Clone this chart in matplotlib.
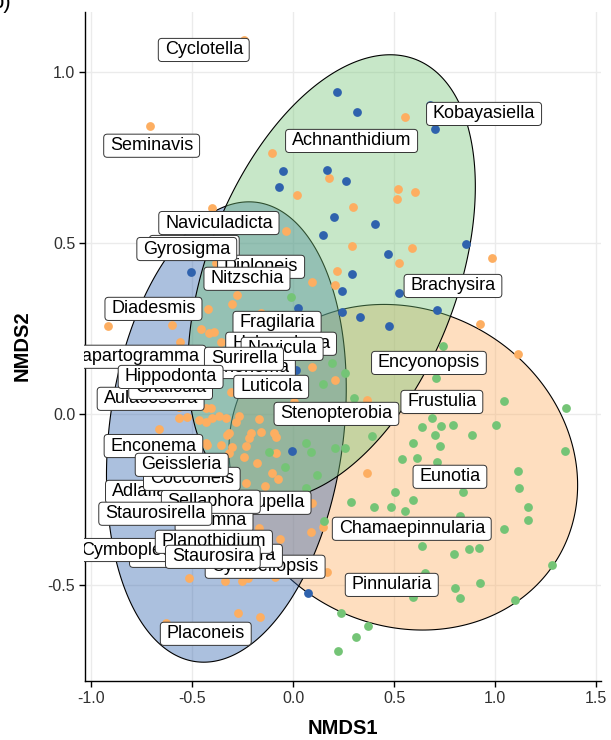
import numpy as np
import matplotlib
matplotlib.use('Agg')
import matplotlib.pyplot as plt
from matplotlib.patches import BoxStyle
from matplotlib.transforms import Bbox, TransformedBbox

plt.rcParams['font.family'] = ['Liberation Sans', 'DejaVu Sans']

# ---------------- data ----------------
blue_x = [0.219, 0.314, 0.678, 0.703, -0.050, 0.165, 0.262, -0.068, 0.204, 0.403,
          0.145, 0.856, 0.468, 0.289, 0.244, 0.522, 0.025, 0.244, 0.333, 0.711,
          0.473, -0.507, 0.015, -0.005, 0.075]
blue_y = [0.940, 0.882, 0.903, 0.832, 0.711, 0.714, 0.682, 0.662, 0.576, 0.555,
          0.523, 0.497, 0.468, 0.409, 0.360, 0.354, 0.310, 0.298, 0.284, 0.304,
          0.257, 0.415, 0.129, -0.108, -0.524]

orange_x = [-0.707, -0.246, 0.552, -0.107, 0.178, 0.019, 0.517, 0.603, 0.514, 0.295,
            -0.403, -0.035, 0.289, 0.587, 0.522, 0.985, -0.383, 0.219, 0.094, 0.209,
            -0.279, -0.303, -0.423, -0.159, 0.925, -0.602, -0.915, -0.458, -0.418, -0.393,
            -0.358, -0.560, 1.114, 0.095, 0.209, -0.308, -0.483, 0.363, 0.005, -0.567,
            -0.433, -0.408, -0.567, -0.527, -0.468, -0.433, -0.403, -0.368, -0.333, -0.284,
            -0.269, -0.169, -0.667, -0.318, -0.209, -0.159, -0.219, -0.095, -0.085, -0.328,
            -0.433, -0.428, -0.358, -0.303, -0.234, -0.318, -0.085, -0.244, -0.179, -0.104,
            -0.075, -0.234, -0.139, 0.363, 0.095, 0.145, 0.089, -0.169, -0.065, -0.104,
            0.169, -0.091, -0.223, -0.252, -0.339, -0.514, -0.271, -0.165, -0.630]
orange_y = [0.842, 1.094, 0.867, 0.764, 0.691, 0.639, 0.657, 0.650, 0.628, 0.605,
            0.602, 0.535, 0.491, 0.485, 0.441, 0.456, 0.441, 0.418, 0.386, 0.377,
            0.348, 0.322, 0.307, 0.295, 0.263, 0.260, 0.257, 0.249, 0.237, 0.240,
            0.211, 0.210, 0.175, 0.137, 0.099, 0.064, 0.041, 0.041, 0.035, 0.020,
            0.018, 0.018, -0.012, -0.009, -0.018, -0.023, -0.012, -0.006, -0.012, -0.023,
            -0.006, -0.015, -0.044, -0.056, -0.056, -0.053, -0.070, -0.056, -0.067, -0.061,
            -0.085, -0.091, -0.091, -0.096, -0.094, -0.114, -0.114, -0.126, -0.143, -0.173,
            -0.190, -0.202, -0.211, -0.173, -0.261, -0.330, -0.344, -0.333, -0.366, -0.392,
            -0.462, -0.478, -0.480, -0.488, -0.488, -0.480, -0.583, -0.593, -0.610]

green_x = [0.741, 0.194, 0.254, 0.145, 0.706, 0.303, 1.045, 1.353, 0.687, -0.010,
           0.637, 0.731, 0.791, 0.886, 1.005, 0.701, 0.592, 0.726, 0.388, 0.537,
           0.612, 0.711, 1.348, 1.114, 1.119, 0.502, 0.841, 0.288, 0.398, 0.483,
           0.552, 0.592, 1.164, 1.164, 0.826, 1.045, 0.637, 0.796, 0.871, 0.920,
           1.279, 0.652, 0.925, 0.801, 0.826, 1.100, 0.592, 0.239, 0.368, 0.313,
           0.224, 0.154, 0.065, 0.090, 0.209, 0.254, 0.119, -0.119, -0.040, 0.065]
green_y = [0.199, 0.149, 0.120, 0.088, 0.105, 0.047, 0.038, 0.018, -0.012, 0.342,
           -0.038, -0.035, -0.032, -0.061, -0.032, -0.061, -0.086, -0.093, -0.064, -0.132,
           -0.128, -0.140, -0.108, -0.166, -0.216, -0.227, -0.227, -0.257, -0.271, -0.271,
           -0.283, -0.251, -0.271, -0.310, -0.300, -0.336, -0.386, -0.409, -0.395, -0.392,
           -0.441, -0.465, -0.494, -0.509, -0.538, -0.544, -0.535, -0.582, -0.620, -0.652,
           -0.693, -0.313, -0.085, -0.111, -0.099, -0.099, -0.178, -0.111, -0.155, -0.216]

# ellipses (drawn in this order): centre, top-point offset (ux, uy), horizontal half-vector vx
ell_cx = [0.545, -0.331, 0.190]
ell_cy = [-0.156, -0.053, 0.400]
ell_ux = [-0.095, 0.112, 0.290]
ell_uy = [0.476, 0.673, 0.650]
ell_vx = [0.858, 0.583, 0.650]
ell_col = ['#FDAE61', '#2F62AD', '#74C476']

# genus labels (drawing order: later on top)
lab_text = ['Tabellaria', 'Diploneis', 'Gomphonema', 'Fragilaria', 'Halamphora',
            'Capartogramma', 'Aulacoseira', 'Craticula', 'Adlafia', 'Nupella',
            'Eolimna', 'Cymbellopsis', 'Pseudostaurosira', 'Cymbopleura',
            'Cyclotella', 'Kobayasiella', 'Achnanthidium', 'Seminavis', 'Naviculadicta',
            'Gyrosigma', 'Nitzschia', 'Diadesmis', 'Navicula', 'Surirella', 'Hippodonta',
            'Luticola', 'Stenopterobia', 'Brachysira', 'Encyonopsis', 'Frustulia',
            'Eunotia', 'Chamaepinnularia', 'Pinnularia', 'Sellaphora', 'Cocconeis',
            'Enconema', 'Geissleria', 'Staurosirella', 'Planothidium', 'Staurosira',
            'Placoneis']
lab_x = [-0.490, -0.159, -0.303, -0.080, -0.060,
         -0.786, -0.706, -0.607, -0.761, -0.095,
         -0.392, -0.139, -0.432, -0.785,
         -0.443, 0.945, 0.289, -0.701, -0.368,
         -0.527, -0.229, -0.692, -0.055, -0.244, -0.607,
         -0.109, 0.214, 0.791, 0.672, 0.736,
         0.776, 0.587, 0.488, -0.408, -0.502,
         -0.692, -0.552, -0.683, -0.393, -0.398,
         -0.433]
lab_y = [0.488, 0.430, 0.137, 0.266, 0.205,
         0.167, 0.044, 0.076, -0.228, -0.260,
         -0.312, -0.447, -0.415, -0.398,
         1.064, 0.877, 0.798, 0.784, 0.558,
         0.482, 0.395, 0.307, 0.190, 0.161, 0.108,
         0.079, 0.000, 0.374, 0.149, 0.035,
         -0.184, -0.336, -0.500, -0.257, -0.190,
         -0.094, -0.149, -0.292, -0.374, -0.418,
         -0.643]

x_ticks = [-1.0, -0.5, 0.0, 0.5, 1.0, 1.5]
y_ticks = [-0.5, 0.0, 0.5, 1.0]
x_ticklabels = ['-1.0', '-0.5', '0.0', '0.5', '1.0', '1.5']
y_ticklabels = ['-0.5', '0.0', '0.5', '1.0']

# ---------------- figure ----------------
W, H = 611, 740
fig = plt.figure(figsize=(W / 100, H / 100), dpi=100)
ax = fig.add_axes([85 / W, 59 / H, 516 / W, 669 / H])
ax.set_xlim(-1.031, 1.524)
ax.set_ylim(-0.781, 1.175)

ax.set_axisbelow(True)
ax.grid(True, color='#EBEBEB', lw=1.0)
for s in ['top', 'right']:
    ax.spines[s].set_visible(False)
for s in ['left', 'bottom']:
    ax.spines[s].set_linewidth(1.0)
    ax.spines[s].set_color('black')
ax.set_xticks(x_ticks)
ax.set_xticklabels(x_ticklabels)
ax.set_yticks(y_ticks)
ax.set_yticklabels(y_ticklabels)
ax.tick_params(length=4, width=1.0, color='black', labelsize=11.5,
               labelcolor='#303030', pad=3)

# ellipses
t = np.linspace(0, 2 * np.pi, 361)
for cx, cy, ux, uy, vx, col in zip(ell_cx, ell_cy, ell_ux, ell_uy, ell_vx, ell_col):
    ex = cx + ux * np.cos(t) + vx * np.sin(t)
    ey = cy + uy * np.cos(t)
    rgba = matplotlib.colors.to_rgba(col, 0.4)
    ax.fill(ex, ey, facecolor=rgba, edgecolor='black', lw=0.8, zorder=2)

# points
ms = 40
ax.scatter(orange_x, orange_y, s=ms, color='#FDAE61', lw=0, zorder=3)
ax.scatter(blue_x, blue_y, s=ms, color='#2F62AD', lw=0, zorder=3)
ax.scatter(green_x, green_y, s=ms, color='#74C476', lw=0, zorder=3)


# labels
def label_box(x0, y0, width, height, mutation_size):
    ph = 0.35 * mutation_size
    pv = 0.17 * mutation_size
    r = BoxStyle.Round(pad=0.0, rounding_size=0.2)
    return r(x0 - ph, y0 - pv, width + 2 * ph, height + 2 * pv, mutation_size)


clip = TransformedBbox(Bbox.from_extents(83.5 / W, 0, 1, 1), fig.transFigure)
for i, (s, x, y) in enumerate(zip(lab_text, lab_x, lab_y)):
    tx = ax.text(x, y, s, ha='center', va='center', fontsize=13, color='black',
                 zorder=10 + i * 0.01,
                 bbox=dict(boxstyle=label_box, fc='white', ec='#333333', lw=0.7))
    tx.set_clip_on(True)
    tx.set_clip_path(None)
    tx.set_clip_box(clip)

fig.text(343 / W, 1 - 728 / H, 'NMDS1', ha='center', va='center',
         fontsize=14.5, fontweight='bold')
fig.text(22 / W, 1 - 346 / H, 'NMDS2', ha='center', va='center',
         fontsize=14.5, fontweight='bold', rotation=90)
fig.text(-8 / W, 1 - 8 / H, 'b)', ha='left', va='baseline', fontsize=16)

fig.savefig('out.png', dpi=100)
